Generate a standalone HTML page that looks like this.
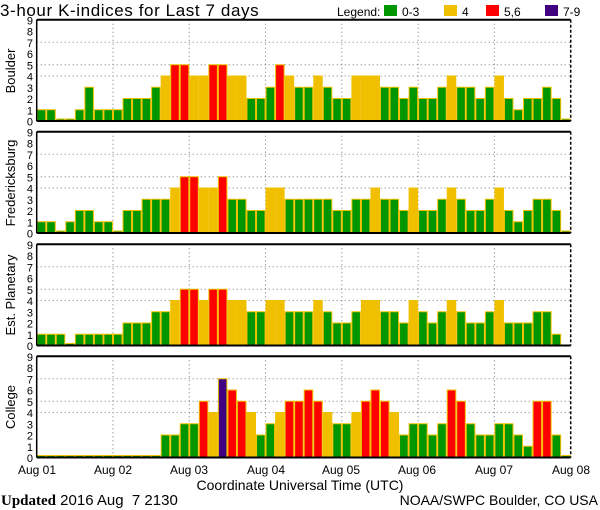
<!DOCTYPE html>
<html><head><meta charset="utf-8">
<style>
html,body{margin:0;padding:0;background:#fff;}
svg{display:block;font-family:"Liberation Sans",sans-serif;}
</style></head><body>
<svg id="s" width="600" height="510" viewBox="0 0 600 510" xmlns="http://www.w3.org/2000/svg">
<rect width="600" height="510" fill="#fff"/>
<text x="0" y="16" font-size="17" letter-spacing="0.6" fill="#000">3-hour K-indices for Last 7 days</text>
<text x="337" y="16" font-size="12">Legend:</text>
<rect x="384" y="5" width="13" height="11" fill="#009600"/><text x="402" y="16" font-size="12">0-3</text>
<rect x="444" y="5" width="13" height="11" fill="#f0c000"/><text x="462" y="16" font-size="12">4</text>
<rect x="486" y="5" width="13" height="11" fill="#ff0000"/><text x="504" y="16" font-size="12">5,6</text>
<rect x="545" y="5" width="13" height="11" fill="#400080"/><text x="563" y="16" font-size="12">7-9</text>
<g id="panels"></g>
<g font-size="12">
<text x="37" y="474" text-anchor="middle">Aug 01</text>
<text x="113" y="474" text-anchor="middle">Aug 02</text>
<text x="189" y="474" text-anchor="middle">Aug 03</text>
<text x="266" y="474" text-anchor="middle">Aug 04</text>
<text x="341" y="474" text-anchor="middle">Aug 05</text>
<text x="417" y="474" text-anchor="middle">Aug 06</text>
<text x="494" y="474" text-anchor="middle">Aug 07</text>
<text x="571" y="474" text-anchor="middle">Aug 08</text>
</g>
<text x="300" y="490" font-size="14" text-anchor="middle">Coordinate Universal Time (UTC)</text>
<text x="1" y="505" font-size="15" style="white-space:pre" xml:space="preserve"><tspan font-family="Liberation Serif,serif" font-weight="bold">Updated</tspan> 2016 Aug  7 2130</text>
<text x="598" y="505" font-size="14" text-anchor="end">NOAA/SWPC Boulder, CO USA</text>
<g font-size="13">
<text transform="translate(15,71) rotate(-90)" text-anchor="middle">Boulder</text>
<text transform="translate(15,183) rotate(-90)" text-anchor="middle">Fredericksburg</text>
<text transform="translate(15,295) rotate(-90)" text-anchor="middle">Est. Planetary</text>
<text transform="translate(15,407) rotate(-90)" text-anchor="middle">College</text>
</g>
</svg>
<script>
var data=[
[1,1,0,0,1,3,1,1, 1,2,2,2,3,4,5,5, 4,4,5,5,4,4,2,2, 3,5,4,3,3,4,3,2, 2,4,4,4,3,3,2,3, 2,2,3,4,3,3,2,3, 4,2,1,2,2,3,2,0],
[1,1,0,1,2,2,1,1, 0,2,2,3,3,3,4,5, 5,4,4,5,3,3,2,2, 4,4,3,3,3,3,3,2, 2,3,3,4,3,3,2,4, 2,2,3,4,3,2,2,3, 4,2,1,2,3,3,2,0],
[1,1,1,0,1,1,1,1, 1,2,2,2,3,3,4,5, 5,4,5,5,4,4,3,3, 4,4,3,3,3,4,3,2, 2,3,4,4,3,3,2,4, 3,2,3,4,3,2,2,3, 4,2,2,2,3,3,1,null],
[0,0,0,0,0,0,0,0, 0,0,0,0,0,2,2,3, 3,5,4,7,6,5,4,2, 3,4,5,5,6,5,4,3, 3,4,5,6,5,4,2,3, 3,2,3,6,5,3,2,2, 3,3,2,1,5,5,2,0]];
var bots=[121,233,345.5,457.5],U=11.25,L=36.7,R=570.7,bw=(R-L)/56;
var g=document.getElementById("panels"),h="";
function col(v){return v<=3?"#009600":v==4?"#f0c000":v<=6?"#ff0000":"#400080";}
for(var p=0;p<4;p++){
 var b=bots[p],t=b-9*U;
 for(var k=0;k<=9;k++){h+='<text x="33" y="'+(b-k*U+4.5)+'" font-size="11" text-anchor="end">'+k+'</text>';}
 [4,5,7].forEach(function(k){h+='<line x1="'+L+'" x2="'+R+'" y1="'+(b-k*U)+'" y2="'+(b-k*U)+'" stroke="#777" stroke-dasharray="1,3"/>';});
 for(var d=1;d<7;d++){var x=L+d*(R-L)/7;h+='<line x1="'+x+'" x2="'+x+'" y1="'+t+'" y2="'+b+'" stroke="#777" stroke-dasharray="1,3"/>';}
 for(var i=0;i<56;i++){var v=data[p][i];if(v===null)continue;var hh=v==0?2:v*U;
  h+='<rect x="'+(L+i*bw+0.5)+'" y="'+(b-hh)+'" width="'+(bw-1)+'" height="'+hh+'" fill="'+col(v)+'" stroke="#f0c000" stroke-width="1"/>';}
 h+='<line x1="'+L+'" x2="'+R+'" y1="'+t+'" y2="'+t+'" stroke="#000" stroke-width="2"/>';
 h+='<line x1="'+L+'" x2="'+R+'" y1="'+b+'" y2="'+b+'" stroke="#000" stroke-width="2"/>';
 h+='<line x1="'+L+'" x2="'+L+'" y1="'+t+'" y2="'+b+'" stroke="#000" stroke-width="1.5"/>';
 h+='<line x1="'+R+'" x2="'+R+'" y1="'+t+'" y2="'+b+'" stroke="#000" stroke-width="1.5" stroke-dasharray="3,2"/>';
}
g.innerHTML=h;
</script>
</body></html>
